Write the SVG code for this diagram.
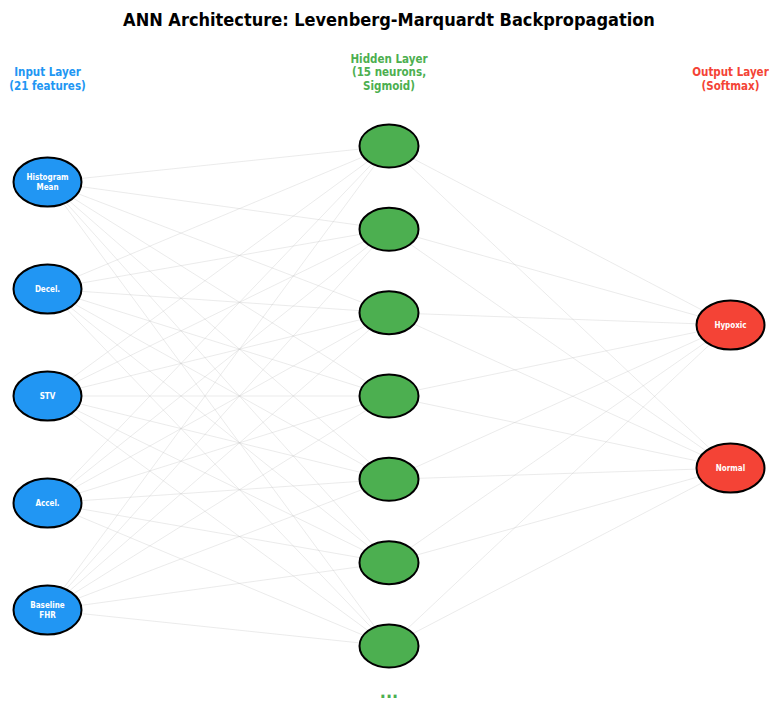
<svg xmlns="http://www.w3.org/2000/svg" width="769" height="702" viewBox="0 0 769 702">
<style>
text{font-family:"DejaVu Sans Condensed","DejaVu Sans","Liberation Sans",sans-serif;font-stretch:condensed;font-weight:bold;text-anchor:middle}
.c line{stroke:#c8c8c8;stroke-width:0.8;stroke-opacity:0.45}
.in{fill:#2196F3;stroke:#000;stroke-width:2}
.hid{fill:#4CAF50;stroke:#000;stroke-width:2}
.out{fill:#F44336;stroke:#000;stroke-width:2}
.nl{fill:#fff;font-size:8px}
.ll{font-size:11.5px}
</style>
<rect width="769" height="702" fill="#fff"/>
<text x="389" y="26" font-size="18" fill="#000">ANN Architecture: Levenberg-Marquardt Backpropagation</text>
<g id="layer-labels">
<text class="ll" x="47.5" y="76" fill="#2196F3">Input Layer</text>
<text class="ll" x="47.5" y="90" fill="#2196F3">(21 features)</text>
<text class="ll" x="389" y="62.5" fill="#4CAF50">Hidden Layer</text>
<text class="ll" x="389" y="76" fill="#4CAF50">(15 neurons,</text>
<text class="ll" x="389" y="90" fill="#4CAF50">Sigmoid)</text>
<text class="ll" x="730.5" y="76" fill="#F44336">Output Layer</text>
<text class="ll" x="730.5" y="90" fill="#F44336">(Softmax)</text>
</g>
<g id="connectors" class="c">
<line x1="47.5" y1="182" x2="389" y2="146"/><line x1="47.5" y1="182" x2="389" y2="229.3"/><line x1="47.5" y1="182" x2="389" y2="312.7"/><line x1="47.5" y1="182" x2="389" y2="396"/><line x1="47.5" y1="182" x2="389" y2="479.3"/><line x1="47.5" y1="182" x2="389" y2="562.7"/><line x1="47.5" y1="182" x2="389" y2="646"/>
<line x1="47.5" y1="289" x2="389" y2="146"/><line x1="47.5" y1="289" x2="389" y2="229.3"/><line x1="47.5" y1="289" x2="389" y2="312.7"/><line x1="47.5" y1="289" x2="389" y2="396"/><line x1="47.5" y1="289" x2="389" y2="479.3"/><line x1="47.5" y1="289" x2="389" y2="562.7"/><line x1="47.5" y1="289" x2="389" y2="646"/>
<line x1="47.5" y1="396" x2="389" y2="146"/><line x1="47.5" y1="396" x2="389" y2="229.3"/><line x1="47.5" y1="396" x2="389" y2="312.7"/><line x1="47.5" y1="396" x2="389" y2="396"/><line x1="47.5" y1="396" x2="389" y2="479.3"/><line x1="47.5" y1="396" x2="389" y2="562.7"/><line x1="47.5" y1="396" x2="389" y2="646"/>
<line x1="47.5" y1="503" x2="389" y2="146"/><line x1="47.5" y1="503" x2="389" y2="229.3"/><line x1="47.5" y1="503" x2="389" y2="312.7"/><line x1="47.5" y1="503" x2="389" y2="396"/><line x1="47.5" y1="503" x2="389" y2="479.3"/><line x1="47.5" y1="503" x2="389" y2="562.7"/><line x1="47.5" y1="503" x2="389" y2="646"/>
<line x1="47.5" y1="610" x2="389" y2="146"/><line x1="47.5" y1="610" x2="389" y2="229.3"/><line x1="47.5" y1="610" x2="389" y2="312.7"/><line x1="47.5" y1="610" x2="389" y2="396"/><line x1="47.5" y1="610" x2="389" y2="479.3"/><line x1="47.5" y1="610" x2="389" y2="562.7"/><line x1="47.5" y1="610" x2="389" y2="646"/>
<line x1="389" y1="146" x2="730.5" y2="325"/><line x1="389" y1="146" x2="730.5" y2="468"/>
<line x1="389" y1="229.3" x2="730.5" y2="325"/><line x1="389" y1="229.3" x2="730.5" y2="468"/>
<line x1="389" y1="312.7" x2="730.5" y2="325"/><line x1="389" y1="312.7" x2="730.5" y2="468"/>
<line x1="389" y1="396" x2="730.5" y2="325"/><line x1="389" y1="396" x2="730.5" y2="468"/>
<line x1="389" y1="479.3" x2="730.5" y2="325"/><line x1="389" y1="479.3" x2="730.5" y2="468"/>
<line x1="389" y1="562.7" x2="730.5" y2="325"/><line x1="389" y1="562.7" x2="730.5" y2="468"/>
<line x1="389" y1="646" x2="730.5" y2="325"/><line x1="389" y1="646" x2="730.5" y2="468"/>
</g>
<g id="in-histogram-mean"><ellipse class="in" cx="47.5" cy="182" rx="34" ry="24.5"/><text class="nl" x="47.5" y="180">Histogram</text><text class="nl" x="47.5" y="190">Mean</text></g>
<g id="in-decel"><ellipse class="in" cx="47.5" cy="289" rx="34" ry="24.5"/><text class="nl" x="47.5" y="291.8">Decel.</text></g>
<g id="in-stv"><ellipse class="in" cx="47.5" cy="396" rx="34" ry="24.5"/><text class="nl" x="47.5" y="398.8">STV</text></g>
<g id="in-accel"><ellipse class="in" cx="47.5" cy="503" rx="34" ry="24.5"/><text class="nl" x="47.5" y="505.8">Accel.</text></g>
<g id="in-baseline-fhr"><ellipse class="in" cx="47.5" cy="610" rx="34" ry="24.5"/><text class="nl" x="47.5" y="608">Baseline</text><text class="nl" x="47.5" y="618">FHR</text></g>
<g id="h1"><ellipse class="hid" cx="389" cy="146" rx="29.5" ry="21.5"/></g>
<g id="h2"><ellipse class="hid" cx="389" cy="229.3" rx="29.5" ry="21.5"/></g>
<g id="h3"><ellipse class="hid" cx="389" cy="312.7" rx="29.5" ry="21.5"/></g>
<g id="h4"><ellipse class="hid" cx="389" cy="396" rx="29.5" ry="21.5"/></g>
<g id="h5"><ellipse class="hid" cx="389" cy="479.3" rx="29.5" ry="21.5"/></g>
<g id="h6"><ellipse class="hid" cx="389" cy="562.7" rx="29.5" ry="21.5"/></g>
<g id="h7"><ellipse class="hid" cx="389" cy="646" rx="29.5" ry="21.5"/></g>
<g id="out-hypoxic"><ellipse class="out" cx="730.5" cy="325" rx="34" ry="24.5"/><text class="nl" x="730.5" y="327.8">Hypoxic</text></g>
<g id="out-normal"><ellipse class="out" cx="730.5" cy="468" rx="34" ry="24.5"/><text class="nl" x="730.5" y="470.8">Normal</text></g>
<text x="389" y="698" font-size="18" fill="#4CAF50">...</text>
</svg>
